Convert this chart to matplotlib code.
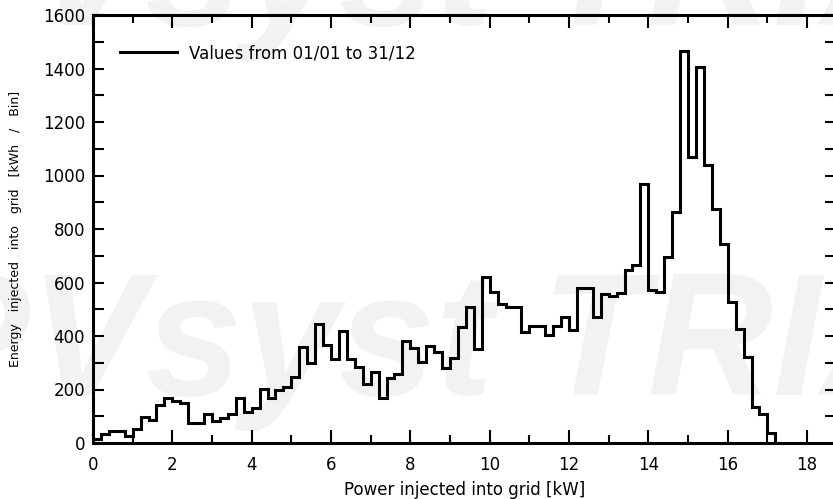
import matplotlib
matplotlib.use("Agg")
import matplotlib.pyplot as plt
import numpy as np
from matplotlib.ticker import MultipleLocator
from matplotlib.lines import Line2D

# energy per 0.2 kW bin
bin_width = 0.2
energy = [15, 34, 45, 45, 27, 51, 98, 86, 142, 167,
          158, 148, 76, 76, 107, 83, 92, 107, 167, 117,
          132, 201, 167, 198, 208, 245, 360, 300, 445, 366,
          313, 420, 313, 285, 220, 267, 167, 242, 258, 382,
          356, 304, 364, 339, 279, 317, 435, 510, 351, 622,
          566, 518, 510, 510, 416, 437, 437, 404, 439, 472,
          422, 578, 578, 472, 558, 550, 560, 647, 665, 968,
          572, 566, 697, 865, 1467, 1070, 1404, 1039, 874, 744,
          528, 425, 320, 136, 108, 36]
legend_label = "Values from 01/01 to 31/12"
xlab = "Power injected into grid [kW]"
ylab = "Energy   injected   into   grid   [kWh   /   Bin]"
watermark = "PVsyst TRIAL"

W, H = 833, 499
fig = plt.figure(figsize=(W / 100, H / 100), dpi=100)
ax = fig.add_axes([93 / W, 56 / H, 743 / W, 428 / H])
ax.patch.set_alpha(0)

# faint watermark behind the plot
for base in (25, 395):
    fig.text(-86 / W, 1 - base / H, watermark, fontsize=125, family="Liberation Sans",
             style="italic", weight="bold", color="#f2f2f2", ha="left", va="baseline",
             zorder=-10)

edges = np.arange(len(energy) + 1) * bin_width
ax.stairs(energy, edges, color="black", linewidth=2.2, baseline=0)

ax.set_xlim(0, 18.73)
ax.set_ylim(0, 1600)
ax.xaxis.set_major_locator(MultipleLocator(2))
ax.xaxis.set_minor_locator(MultipleLocator(1))
ax.yaxis.set_major_locator(MultipleLocator(200))
ax.yaxis.set_minor_locator(MultipleLocator(100))
ax.tick_params(which="both", direction="in", top=True, right=True, width=1.5, labelsize=12)
ax.tick_params(axis="x", which="major", length=9.5, pad=9)
ax.tick_params(axis="x", which="minor", length=5.8)
ax.tick_params(axis="y", which="both", length=8, pad=5.8)
for s in ax.spines.values():
    s.set_linewidth(2.2)

ax.set_xlabel(xlab, fontsize=12)
ax.xaxis.set_label_coords(0.5, -(490 - 443) / 428)
ax.xaxis.label.set_va("center")
ax.set_ylabel(ylab, fontsize=9)
ax.yaxis.set_label_coords((15 - 93) / 743, 0.5)
ax.yaxis.label.set_va("center")

ax.legend([Line2D([], [], color="black", lw=2.2)], [legend_label], loc="center left",
          bbox_to_anchor=((120 - 93) / 743, 1 - (53 - 15) / 428), frameon=False,
          fontsize=12, handlelength=3.4, handletextpad=0.75, borderpad=0, borderaxespad=0)

fig.savefig("out.png", dpi=100)
